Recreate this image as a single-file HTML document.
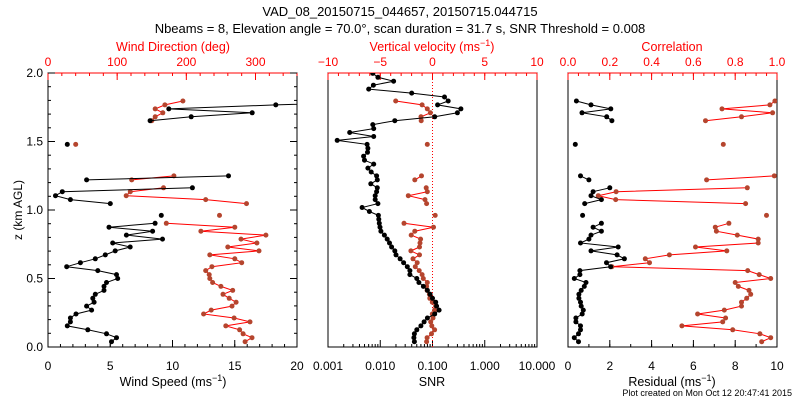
<!DOCTYPE html>
<html><head><meta charset="utf-8">
<style>
html,body{margin:0;padding:0;background:#fff;}
svg{display:block;font-family:"Liberation Sans",sans-serif;}
</style></head>
<body>
<svg id="chart" width="800" height="400" viewBox="0 0 800 400">
<defs>
<clipPath id="c1"><rect x="48" y="73" width="249" height="274"/></clipPath>
<clipPath id="c2"><rect x="328" y="73" width="209" height="274"/></clipPath>
<clipPath id="c3"><rect x="568" y="73" width="209" height="274"/></clipPath>
</defs>
<text x="400" y="16" text-anchor="middle" font-size="13">VAD_08_20150715_044657, 20150715.044715</text>
<text x="400" y="33" text-anchor="middle" font-size="13">Nbeams = 8, Elevation angle = 70.0°, scan duration = 31.7 s, SNR Threshold = 0.008</text>
<text x="792" y="396" text-anchor="end" font-size="9">Plot created on Mon Oct 12 20:47:41 2015</text>
<text transform="translate(22,210) rotate(-90)" text-anchor="middle" font-size="12">z (km AGL)</text>
<g id="g"></g>
</svg>
<script>
// shared height grid (km)
const heightStart = 0.039, heightStep = 0.0288, heightCount = 69;
const N = null;
const windSpeed = [5.1,5.5,4.7,3.2,1.55,1.8,1.8,2.25,3.5,3.1,3.7,3.6,3.8,4.5,4.5,4.7,5.6,5.5,4.0,1.5,2.6,3.8,4.6,5.4,6.6,5.2,9.2,6.3,8.4,4.9,8.6,N,9.1,N,N,5.0,1.8,0.6,1.15,11.6,N,3.1,14.5,N,N,N,N,N,N,N,1.55,N,N,N,N,N,8.2,11.5,16.4,9.7,18.3,28,N,N,N,N,N,N,N];
const windDir = [285,295,282,277,257,292,269,225,236,266,272,262,253,267,250,238,234,233,228,237,280,270,234,305,260,302,279,315,221,270,171,N,248,N,N,287,228,113,119,167,N,121,182,N,N,N,N,N,N,N,40,N,N,N,N,N,150,155,166,155,169,195,N,N,N,N,N,N,N];
const snr = [0.045,0.044,0.045,0.05,0.06,0.069,0.08,0.11,0.134,0.12,0.115,0.1,0.09,0.08,0.067,0.055,0.05,0.037,0.037,0.033,0.028,0.024,0.02,0.019,0.0165,0.015,0.0136,0.012,0.0103,0.0099,0.0096,0.0094,0.0092,0.0062,0.0045,0.009,0.008,0.008,0.0085,0.0088,0.0066,0.0088,0.0085,0.0067,0.0058,0.0075,0.005,0.0048,0.0057,0.0058,0.0056,0.0015,0.0075,0.0026,0.0075,0.0072,0.019,0.11,0.3,0.35,0.125,0.2,0.17,0.04,0.006,0.0074,0.018,0.009,0.0072];
const vertVel = [-0.56,-0.52,-0.1,0.2,-0.07,-0.17,0.05,-0.02,0.2,0.3,-0.02,-0.26,-0.3,-0.52,-0.56,-0.5,-0.88,-1.0,-1.27,-1.65,-1.46,-1.87,-1.24,-2.07,-1.24,-1.2,-1.14,-2.04,-1.69,0.1,-2.73,N,0.26,N,N,-0.56,-0.72,-2.32,-0.5,-0.6,N,-1.69,-1.05,N,N,N,N,N,N,N,-0.5,N,N,N,N,N,-1.08,-1.1,-0.2,-0.5,-1.0,-3.52,N,N,N,N,N,N,N];
const residual = [0.5,0.3,0.5,0.6,0.6,0.38,0.38,0.68,0.73,0.63,0.6,0.52,0.52,0.63,0.78,0.86,0.3,0.57,0.57,2.04,1.84,2.7,2.35,1.1,2.4,0.6,1.0,1.1,1.6,1.2,1.6,N,0.7,N,N,0.8,1.6,1.1,1.2,2.0,N,1.0,0.6,N,N,N,N,N,N,N,0.35,N,N,N,N,N,2.1,1.85,0.67,2.05,1.1,0.4,N,N,N,N,N,N,N];
const correlation = [0.927,0.97,0.918,0.788,0.545,0.74,0.754,0.62,0.748,0.83,0.83,0.855,0.874,0.866,0.815,0.8,0.97,0.915,0.86,0.21,0.39,0.37,0.485,0.76,0.61,0.91,0.91,0.81,0.71,0.705,0.77,N,0.95,N,N,0.85,0.228,0.145,0.23,0.858,N,0.663,0.987,N,N,N,N,N,N,N,0.743,N,N,N,N,N,0.658,0.83,0.979,0.737,0.966,0.99,N,N,N,N,N,N,N];
const yTicks = ["0.0","0.5","1.0","1.5","2.0"];
const speedTicks = ["0","5","10","15","20"];
const dirTicks = ["0","100","200","300"];
const snrTicks = ["0.001","0.010","0.100","1.000","10.000"];
const vvTicks = ["\u221210","\u22125","0","5","10"];
const resTicks = ["0","2","4","6","8","10"];
const corrTicks = ["0.0","0.2","0.4","0.6","0.8","1.0"];

const NS="http://www.w3.org/2000/svg";
const G=document.getElementById('g');
const TOP=73,BOT=347;
function yS(z){return BOT-(z/2)*(BOT-TOP);}
function lin(a,b,x0,x1){return v=>x0+(v-a)/(b-a)*(x1-x0);}
function logS(a,b,x0,x1){return v=>x0+(Math.log10(v)-Math.log10(a))/(Math.log10(b)-Math.log10(a))*(x1-x0);}
function mk(tag,attrs,parent){const e=document.createElementNS(NS,tag);for(const k in attrs)e.setAttribute(k,attrs[k]);(parent||G).appendChild(e);return e;}
function txt(x,y,s,anchor,fill,size){const t=mk('text',{x:x,y:y,'text-anchor':anchor,fill:fill,'font-size':size||12});t.textContent=s;return t;}
const H=[];for(let i=0;i<heightCount;i++)H.push(heightStart+i*heightStep);

function series(vals,xs,clip,lineColor,markColor,name){
  const g=mk('g',{'clip-path':'url(#'+clip+')'});
  
  
  let segs=[],cur=[];
  vals.forEach((v,i)=>{if(v===null){if(cur.length)segs.push(cur);cur=[];}else cur.push([xs(v),yS(H[i])]);});
  if(cur.length)segs.push(cur);
  segs.forEach(s=>{if(s.length>1){const p=mk('polyline',{points:s.map(q=>q[0].toFixed(1)+','+q[1].toFixed(1)).join(' '),fill:'none',stroke:lineColor,'stroke-width':1},g);
    
    }});
  vals.forEach((v,i)=>{if(v!==null){const c=mk('circle',{cx:xs(v).toFixed(1),cy:yS(H[i]).toFixed(1),r:2.5,fill:markColor},g);
    
    }});
}
function frame(x0,x1,name){const r=mk('rect',{x:x0,y:TOP,width:x1-x0,height:BOT-TOP,fill:'none',stroke:'#000','stroke-width':1});
  
  }
function hTicks(x0,x1,vals,sc,len,color,top){
  vals.forEach(v=>{const x=sc(v);if(top)mk('line',{x1:x,x2:x,y1:TOP,y2:TOP+len,stroke:color});else mk('line',{x1:x,x2:x,y1:BOT,y2:BOT-len,stroke:color});});
}
function range(a,b,s){const r=[];for(let v=a;v<=b+1e-9;v+=s)r.push(+v.toFixed(6));return r;}

// Panel 1
const p1x=lin(0,20,48,297), p1d=lin(0,360,48,297);
frame(48,297,'wind-panel-frame');
hTicks(0,0,range(0,20,1),p1x,3,'#000',false);hTicks(0,0,range(0,20,5),p1x,7,'#000',false);
hTicks(0,0,range(0,360,20),p1d,3,'#f00',true);hTicks(0,0,range(0,300,100),p1d,7,'#f00',true);
mk('line',{x1:48,x2:297,y1:TOP,y2:TOP,stroke:'#f00'});
range(0,2,0.1).forEach(z=>{const y=yS(z),l=(Math.round(z*10)%5==0)?7:3;mk('line',{x1:48,x2:48+l,y1:y,y2:y,stroke:'#000'});mk('line',{x1:297,x2:297-l,y1:y,y2:y,stroke:'#000'});});
yTicks.forEach((s,i)=>{const t=txt(43,yS(i*0.5)+4,s,'end','#000',12);});
speedTicks.forEach((s,i)=>{const t=txt(p1x(i*5),370,s,'middle','#000',12);});
dirTicks.forEach((s,i)=>{const t=txt(p1d(i*100),66,s,'middle','#f00',12);});
series(windDir,p1d,'c1','#f00','#b5452e','wind-direction-series');
series(windSpeed,p1x,'c1','#000','#000','wind-speed-series');

// Panel 2
const p2s=logS(0.001,10,328,537), p2v=lin(-10,10,328,537);
frame(328,537,'snr-panel-frame');
for(let d=-3;d<1;d++){for(let m=1;m<10;m++){const x=p2s(m*Math.pow(10,d));mk('line',{x1:x,x2:x,y1:BOT,y2:BOT-(m==1?7:3),stroke:'#000'});}}
mk('line',{x1:537,x2:537,y1:BOT,y2:BOT-7,stroke:'#000'});
hTicks(0,0,range(-10,10,1),p2v,3,'#f00',true);hTicks(0,0,range(-10,10,5),p2v,7,'#f00',true);
mk('line',{x1:328,x2:537,y1:TOP,y2:TOP,stroke:'#f00'});
const zl=mk('line',{x1:p2v(0),x2:p2v(0),y1:TOP,y2:BOT,stroke:'#f00','stroke-dasharray':'1,2'});

snrTicks.forEach((s,i)=>{const t=txt(p2s(Math.pow(10,i-3)),370,s,'middle','#000',12);});
vvTicks.forEach((s,i)=>{const t=txt(p2v(-10+i*5),66,s,'middle','#f00',12);});
series(vertVel,p2v,'c2','#f00','#b5452e','vertical-velocity-series');
series(snr,p2s,'c2','#000','#000','snr-series');

// Panel 3
const p3r=lin(0,10,568,777), p3c=lin(0,1,568,777);
frame(568,777,'residual-panel-frame');
hTicks(0,0,range(0,10,1),p3r,3,'#000',false);hTicks(0,0,range(0,10,2),p3r,7,'#000',false);
hTicks(0,0,range(0,1,0.05),p3c,3,'#f00',true);hTicks(0,0,range(0,1,0.2),p3c,7,'#f00',true);
mk('line',{x1:568,x2:777,y1:TOP,y2:TOP,stroke:'#f00'});
resTicks.forEach((s,i)=>{const t=txt(p3r(i*2),370,s,'middle','#000',12);});
corrTicks.forEach((s,i)=>{const t=txt(p3c(i*0.2),66,s,'middle','#f00',12);});
series(correlation,p3c,'c3','#f00','#b5452e','correlation-series');
series(residual,p3r,'c3','#000','#000','residual-series');

// axis titles
function title(x,y,html,color,name){const t=mk('text',{x:x,y:y,'text-anchor':'middle',fill:color,'font-size':12.5});t.innerHTML=html;
  
  }
title(173,51,'Wind Direction (deg)','#f00','direction-axis-title');
title(432,51,'Vertical velocity (ms<tspan dy="-5" font-size="9">\u22121</tspan><tspan dy="5">)</tspan>','#f00','velocity-axis-title');
title(672,51,'Correlation','#f00','correlation-axis-title');
title(173,386,'Wind Speed (ms<tspan dy="-5" font-size="9">\u22121</tspan><tspan dy="5">)</tspan>','#000','speed-axis-title');
title(432,386,'SNR','#000','snr-axis-title');
title(672,386,'Residual (ms<tspan dy="-5" font-size="9">\u22121</tspan><tspan dy="5">)</tspan>','#000','residual-axis-title');
</script>
</body></html>
